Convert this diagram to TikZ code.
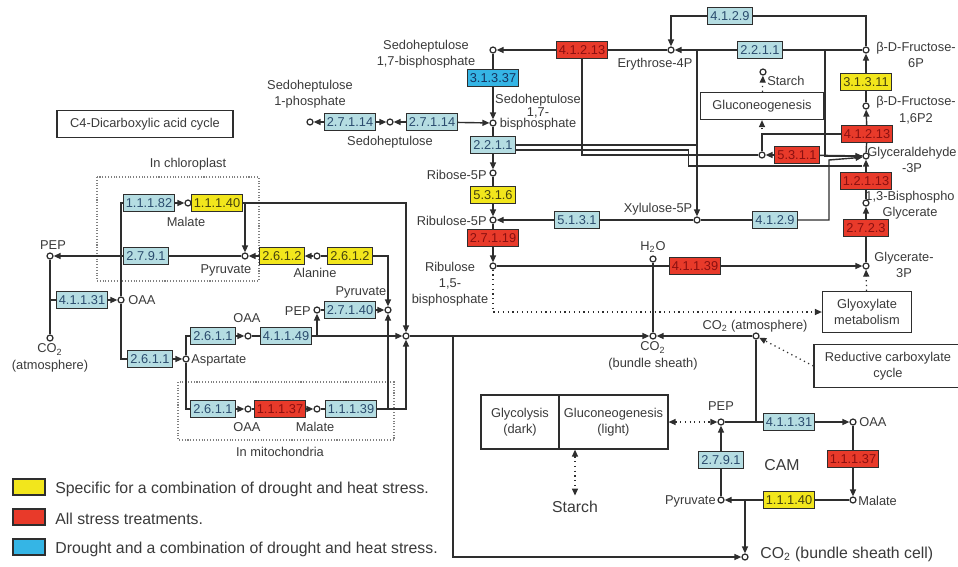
\documentclass[tikz,border=0pt]{standalone}
\usepackage{fontspec}
\setmainfont{Liberation Sans}
\usetikzlibrary{arrows.meta,positioning}

\definecolor{lbfill}{HTML}{B5DDE2}
\definecolor{lbtext}{HTML}{2B4C6E}
\definecolor{rdfill}{HTML}{E83A2A}
\definecolor{rdtext}{HTML}{8A1010}
\definecolor{ylfill}{HTML}{F2E61C}
\definecolor{yltext}{HTML}{45420E}
\definecolor{blfill}{HTML}{35B5E5}
\definecolor{bltext}{HTML}{16325E}
\definecolor{ln}{HTML}{2E2E2E}
\definecolor{txt}{HTML}{3A3A3A}

\begin{document}
\begin{tikzpicture}[
	% pixel grid of the map, y pointing down
	x={(0.02cm,0cm)},
	y={(0cm,-0.02cm)},
	font=\fontsize{7.3}{9.3}\selectfont,
	rxn/.style={draw=ln,line width=0.8pt},
	arr/.style={rxn,-{Triangle[length=0.14cm,width=0.12cm]}},
	dotarr/.style={draw=ln,line width=0.7pt,dotted,-{Triangle[length=0.14cm,width=0.12cm]}},
	dotboth/.style={draw=ln,line width=0.7pt,dotted,{Triangle[length=0.14cm,width=0.12cm]}-{Triangle[length=0.14cm,width=0.12cm]}},
	enz/.style={draw=ln,line width=0.6pt,fill=#1fill,text=#1text,inner xsep=1.4pt,inner ysep=0pt,minimum height=0.33cm},
	cpd/.style={circle,draw=ln,fill=white,line width=0.7pt,inner sep=0pt,minimum size=0.12cm},
	lab/.style={text=txt,align=center,inner sep=0pt},
	mapbox/.style={draw=ln,line width=0.7pt,fill=white,text=txt,align=center,inner sep=1pt},
	compart/.style={draw=gray,densely dotted,line width=0.6pt},
	legkey/.style={draw=ln,line width=0.6pt,minimum width=0.64cm,minimum height=0.32cm,inner sep=0pt},
	big/.style={font=\fontsize{9}{11}\selectfont}
	]
	\useasboundingbox[fill=white] (0,0) rectangle (958,566);

	%
	% Calvin cycle
	%
	\foreach \nm/\px/\py/\ec/\cl in {
		e4129a/730/16/4.1.2.9/lb, e41213a/582/50/4.1.2.13/rd, e2211a/760/50/2.2.1.1/lb,
		e31337/493/78/3.1.3.37/bl, e27114a/350/122/2.7.1.14/lb, e27114b/432/122/2.7.1.14/lb,
		e2211b/493/145/2.2.1.1/lb, e5316/493/195/5.3.1.6/yl, e27119/493/238/2.7.1.19/rd,
		e5131/577/220/5.1.3.1/lb, e4129b/775/220/4.1.2.9/lb, e5311/797/155/5.3.1.1/rd,
		e31311/866/82/3.1.3.11/yl, e41213b/867/134/4.1.2.13/rd, e12113/866/181/1.2.1.13/rd,
		e2723/866/228/2.7.2.3/rd, e41139/695/266/4.1.1.39/rd}
		\node[enz=\cl] (\nm) at (\px,\py) {\ec};

	\foreach \nm/\px/\py in {
		sbp/493/50, e4p/671/50, f6p/866/50, s7p/493/123, s1p/310/122, sedo/390/122,
		r5p/493/173, ru5p/493/220, rubp/493/266, x5p/697/220, starcha/763/72,
		dhap/762/155, fbp/866/106, gap/866/156, bpg/866/203, pga/866/266,
		h2o/653/259, co2bs/653/336, co2air/756/336}
		\node[cpd] (\nm) at (\px,\py) {};

	\node[mapbox,minimum width=2.46cm,minimum height=0.54cm] (glucbox) at (762,106) {Gluconeogenesis};
	\node[mapbox,minimum width=1.78cm,minimum height=0.82cm] (glyoxbox) at (867,312) {Glyoxylate\\metabolism};
	\node[mapbox,minimum width=2.96cm,minimum height=0.86cm] (redbox) at (888,366) {Reductive carboxylate\\cycle};

	\coordinate (jE4p) at (697,50);
	\coordinate (jTk) at (825,50);
	\coordinate (jGluc) at (762,134);
	\coordinate (jAld) at (829,160);
	\coordinate (jGap) at (862,166);

	\draw[arr] (e4129a.west) -| (e4p);
	\draw[rxn] (e4129a.east) -| (f6p);
	\draw[rxn] (e4p) -- (e41213a);
	\draw[arr] (e41213a) -- (sbp);
	\draw[rxn] (f6p) -- (e2211a);
	\draw[arr] (e2211a) -- (e4p);
	\draw[arr] (jE4p) -- (x5p);
	\draw[arr] (jTk) |- (gap);
	\draw[rxn] (sbp) -- (e31337);
	\draw[arr] (e31337) -- (s7p);
	\draw[arr] (e27114a) -- (s1p);
	\draw[arr] (e27114a) -- (sedo);
	\draw[arr] (e27114b) -- (sedo);
	\draw[arr] (e27114b) -- (s7p);
	\draw[rxn] (s7p) -- (e2211b);
	\draw[arr] (e2211b) -- (r5p);
	\draw[rxn] (e2211b.east) -- (e2211b.east -| jE4p);
	\draw[rxn] ([yshift=-0.1cm]e2211b.east) -- ++(173,0) |- (jGap);
	\draw[rxn] (e41213a.south) |- (dhap);
	\draw[arr] (e5311) -- (dhap);
	\draw[rxn] (e5311) -- (gap);
	\draw[rxn] (dhap) -- (jGluc);
	\draw[rxn] (e41213b) -- (jGluc);
	\draw[dotarr] (jGluc) -- (glucbox);
	\draw[dotarr] (glucbox) -- (starcha);
	\draw[rxn] (r5p) -- (e5316);
	\draw[arr] (e5316) -- (ru5p);
	\draw[rxn] (ru5p) -- (e27119);
	\draw[arr] (e27119) -- (rubp);
	\draw[rxn] (x5p) -- (e5131);
	\draw[arr] (e5131) -- (ru5p);
	\draw[rxn] (x5p) -- (e4129b);
	\draw[arr] (e4129b.east) -| (jAld) -- (gap.200);
	% right column
	\draw[rxn] (pga) -- (e2723);
	\draw[arr] (e2723) -- (bpg);
	\draw[rxn] (bpg) -- (e12113);
	\draw[arr] (e12113) -- (gap);
	\draw[rxn] (gap) -- (e41213b);
	\draw[arr] (e41213b) -- (fbp);
	\draw[rxn] (fbp) -- (e31311);
	\draw[arr] (e31311) -- (f6p);
	% rubisco
	\draw[rxn] (rubp) -- (e41139);
	\draw[arr] (e41139) -- (pga);
	\draw[rxn] (h2o) -- (co2bs);
	\draw[dotarr] (rubp) |- (glyoxbox);
	\draw[dotarr] (glyoxbox) -- (pga);
	\draw[arr] (co2air) -- (co2bs);
	\draw[dotarr] (redbox.west) -- (co2air);

	\node[lab] (lsbp) at (426,54) {Sedoheptulose\\1,7-bisphosphate};
	\node[lab] (ls1p) at (310,94) {Sedoheptulose\\1-phosphate};
	\node[lab] (lsedo) at (390,142) {Sedoheptulose};
	\node[lab,font=\fontsize{7.3}{6.3}\selectfont] (ls7p) at (538,112) {Sedoheptulose\\1,7-\\bisphosphate};
	\node[lab] (le4p) at (655,64) {Erythrose-4P};
	\node[lab,anchor=west] (lstarcha) at (767,81) {Starch};
	\node[lab] (lf6p) at (916,55) {β-D-Fructose-\\6P};
	\node[lab] (lfbp) at (916,110) {β-D-Fructose-\\1,6P2};
	\node[lab] (lgap) at (912,160) {Glyceraldehyde\\-3P};
	\node[lab] (lbpg) at (910,205) {1,3-Bisphospho\\Glycerate};
	\node[lab] (lpga) at (904,265) {Glycerate-\\3P};
	\node[lab,anchor=east] (lr5p) at (487,175) {Ribose-5P};
	\node[lab,anchor=east] (lru5p) at (487,221) {Ribulose-5P};
	\node[lab,font=\fontsize{7.3}{9}\selectfont] (lrubp) at (450,284) {Ribulose\\1,5-\\bisphosphate};
	\node[lab] (lx5p) at (658,209) {Xylulose-5P};
	\node[lab] (lh2o) at (653,247) {H\textsubscript{2}O};
	\node[lab] (lco2bs) at (653,356) {CO\textsubscript{2}\\(bundle sheath)};
	\node[lab] (lco2air) at (755,326) {CO\textsubscript{2} (atmosphere)};

	%
	% C4-dicarboxylic acid cycle
	%
	\node[mapbox,minimum width=3.52cm,minimum height=0.54cm] (c4box) at (145,124) {C4-Dicarboxylic acid cycle};
	\draw[compart] (97,177) rectangle (259,281);
	\draw[compart] (178,382) rectangle (394,440);

	\foreach \nm/\px/\py/\ec/\cl in {
		e11182/149/203/1.1.1.82/lb, e11140a/217/203/1.1.1.40/yl, e2791a/146/256/2.7.9.1/lb,
		e2612a/282/256/2.6.1.2/yl, e2612b/350/256/2.6.1.2/yl, e41131a/82/300/4.1.1.31/lb,
		e2611a/150/359/2.6.1.1/lb, e2611b/213/336/2.6.1.1/lb, e41149/286/336/4.1.1.49/lb,
		e27140/350/310/2.7.1.40/lb, e2611c/213/409/2.6.1.1/lb, e11137a/280/409/1.1.1.37/rd,
		e11139/351/409/1.1.1.39/lb}
		\node[enz=\cl] (\nm) at (\px,\py) {\ec};

	\foreach \nm/\px/\py in {
		pepa/50/256, co2a/50/338, oaaa/121/300, mala/188/203, pyra/245/256,
		ala/317/256, aspa/186/359, oaab/248/336, pepb/317/310, pyrb/388/310,
		jn/406/336, oaac/248/409, malb/317/409}
		\node[cpd] (\nm) at (\px,\py) {};

	\draw[arr] (e11182) -- (mala);
	\draw[rxn] (mala) -- (e11140a);
	\draw[arr] (e11140a.east) -| (jn);
	\draw[arr] (pyra |- e11140a.east) -- (pyra);
	\draw[rxn] (pyra) -- (e2791a);
	\draw[arr] (e2791a) -- (pepa);
	\draw[arr] (e2612a) -- (pyra);
	\draw[arr] (ala) -- (e2612a);
	\draw[rxn] (ala) -- (e2612b);
	\draw[arr] (e2612b.east) -| (pyrb);
	\draw[rxn] (pepa) -- (co2a);
	\draw[rxn] (e41131a.west) -- (pepa |- e41131a.west);
	\draw[arr] (e41131a) -- (oaaa);
	\draw[rxn] (e11182.west) -| (oaaa);
	\draw[rxn] (oaaa) |- (e2611a.west);
	\draw[arr] (e2611a) -- (aspa);
	\draw[rxn] (aspa) |- (e2611b.west);
	\draw[rxn] (aspa) |- (e2611c.west);
	\draw[arr] (e2611b) -- (oaab);
	\draw[rxn] (oaab) -- (e41149);
	\draw[arr] (e41149) -- (jn);
	\draw[arr] (pepb |- e41149.east) -- (pepb);
	\draw[rxn] (pepb) -- (e27140);
	\draw[arr] (e27140) -- (pyrb);
	\draw[arr] (e2611c) -- (oaac);
	\draw[rxn] (oaac) -- (e11137a);
	\draw[arr] (e11137a) -- (malb);
	\draw[rxn] (malb) -- (e11139);
	\draw[arr] (e11139.east) -| (jn);
	\draw[arr] (pyrb |- e11139.east) -- (pyrb);
	\draw[arr] (jn) -- (co2bs);

	\node[lab] (lchl) at (188,164) {In chloroplast};
	\node[lab] (lmito) at (280,452) {In mitochondria};
	\node[lab] (lmala) at (186,222) {Malate};
	\node[lab] (lpyra) at (226,270) {Pyruvate};
	\node[lab] (lala) at (315,273) {Alanine};
	\node[lab] (lpepa) at (53,245) {PEP};
	\node[lab] (lco2a) at (50,358) {CO\textsubscript{2}\\(atmosphere)};
	\node[lab,anchor=west] (loaaa) at (128,300) {OAA};
	\node[lab,anchor=west] (laspa) at (191,360) {Aspartate};
	\node[lab] (loaab) at (247,318) {OAA};
	\node[lab,anchor=east] (lpepb) at (311,311) {PEP};
	\node[lab] (lpyrb) at (361,292) {Pyruvate};
	\node[lab] (loaac) at (247,427) {OAA};
	\node[lab] (lmalb) at (315,427) {Malate};

	%
	% CAM
	%
	\foreach \nm/\px/\py/\ec/\cl in {
		e41131b/789/422/4.1.1.31/lb, e11137b/853/459/1.1.1.37/rd,
		e11140b/789/500/1.1.1.40/yl, e2791b/721/460/2.7.9.1/lb}
		\node[enz=\cl] (\nm) at (\px,\py) {\ec};

	\foreach \nm/\px/\py in {pepc/721/422, oaad/853/422, malc/853/500, pyrc/721/500, co2cell/745/557}
		\node[cpd] (\nm) at (\px,\py) {};

	\node[mapbox,minimum width=1.56cm,minimum height=1.08cm] (glybox) at (520,422) {Glycolysis\\(dark)};
	\node[mapbox,minimum width=2.18cm,minimum height=1.08cm,right=-0.7pt of glybox] (glucnbox) {Gluconeogenesis\\(light)};

	\coordinate (jBs) at (453,336);
	\coordinate (jCam) at (756,422);
	\coordinate (jCell) at (745,500);

	\draw[rxn] (pepc) -- (e41131b);
	\draw[arr] (e41131b) -- (oaad);
	\draw[rxn] (oaad) -- (e11137b);
	\draw[arr] (e11137b) -- (malc);
	\draw[rxn] (malc) -- (e11140b);
	\draw[arr] (e11140b) -- (pyrc);
	\draw[rxn] (pyrc) -- (e2791b);
	\draw[arr] (e2791b) -- (pepc);
	\draw[arr] (jCell) -- (co2cell);
	\draw[rxn] (co2air) -- (jCam);
	\draw[arr] (jBs) |- (co2cell);
	\draw[dotboth] (glucnbox) -- (pepc);

	\node[lab,big] (lstarchb) at (575,507) {Starch};
	\draw[dotboth,shorten >=3pt] (glucnbox.south -| lstarchb) -- (lstarchb.north);
	\node[lab] (lpepc) at (721,406) {PEP};
	\node[lab,anchor=west] (loaad) at (859,422) {OAA};
	\node[lab,anchor=west] (lmalc) at (858,501) {Malate};
	\node[lab,anchor=east] (lpyrc) at (716,501) {Pyruvate};
	\node[lab,big] (lcam) at (782,465) {CAM};
	\node[lab,big,anchor=west] (lco2cell) at (760,554) {CO\textsubscript{2} (bundle sheath cell)};

	%
	% Legend
	%
	\foreach \nm/\py/\cl/\tx in {
		y/487/ylfill/Specific for a combination of drought and heat stress.,
		r/517/rdfill/All stress treatments.,
		b/547/blfill/Drought and a combination of drought and heat stress.}{
		\node[legkey,fill=\cl] (key\nm) at (29,\py) {};
		\node[lab,big,anchor=west] (lkey\nm) at (55,\py+2) {\tx};
	}
\end{tikzpicture}
\end{document}
